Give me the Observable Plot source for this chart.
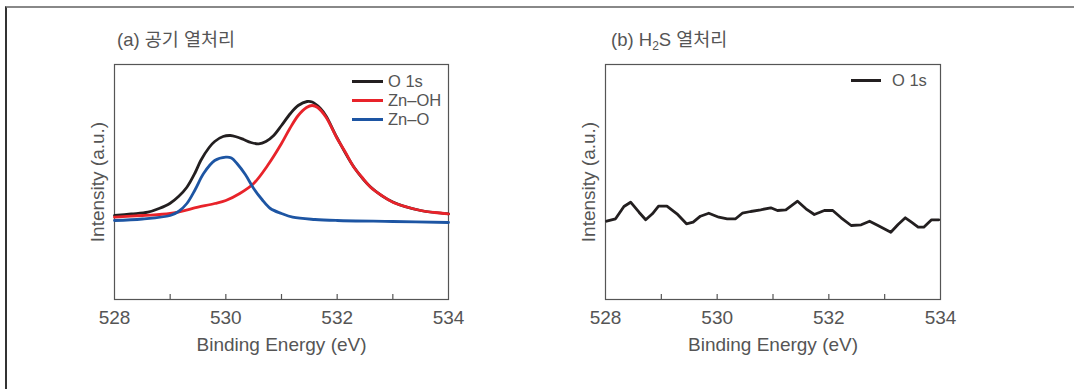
<!DOCTYPE html>
<html><head><meta charset="utf-8">
<script src="https://cdn.jsdelivr.net/npm/d3@7"></script>
<script src="https://cdn.jsdelivr.net/npm/@observablehq/plot@0.6"></script>
<style>
body{margin:0;background:#fff;}
#wrap{position:relative;width:1074px;height:389px;overflow:hidden;font-family:"Liberation Sans","Noto Sans CJK KR",sans-serif;color:#555;}
#wrap .frame{position:absolute;left:5px;top:6px;width:1100px;height:400px;border-top:2px solid #888;border-left:2px solid #333;}
.title{position:absolute;font-size:18.5px;line-height:20px;white-space:nowrap;}
.title sub{font-size:12px;vertical-align:-4px;}
.plot{position:absolute;top:0;}
.legend{position:absolute;font-size:16.5px;line-height:19px;white-space:nowrap;}
.legend .row{display:flex;align-items:center;height:19px;}
.legend .sw{display:inline-block;width:31px;height:3px;margin-right:5px;}
</style></head>
<body><div id="wrap"><div class="frame"></div></div>
<script>
// ---- data ----
const xTicks = [529, 530, 531, 532, 533];
const xTickLabels = [528, 530, 532, 534];
const seriesNamesA = ["O 1s", "Zn–OH", "Zn–O"];
const colorsA = ["#231f20", "#e8232a", "#1d55a3"];
// (a) air anneal
const o1sA_x = [528.0,528.3,528.6,528.8,529.0,529.15,529.3,529.45,529.55,529.7,529.8,529.95,530.08,530.2,530.32,530.45,530.59,530.72,530.86,531.0,531.16,531.3,531.46,531.55,531.7,531.8,532.0,532.3,532.6,533.0,533.5,534.0];
const o1sA_y = [84,85.5,87.3,91,96.3,103,112.3,127,139,152,158,163,164,162.5,160,157,155.7,158,164,174,186,194,198,197.5,191,183.5,161.5,132.5,112.5,97.5,89,85.7];
const znohA_x = [528.0,528.5,529.0,529.5,529.8,530.0,530.25,530.5,530.75,531.0,531.15,531.3,531.45,531.55,531.65,531.8,532.0,532.15,532.3,532.45,532.6,532.8,533.0,533.25,533.5,533.75,534.0];
const znohA_y = [82.3,84,86,92.3,96,99,106,116,134,156,171,184,192,194,192,182.3,161,147,132.3,122,112.3,104,97.3,92.5,89,87,85.7];
const znoA_x = [528.0,528.5,529.0,529.15,529.3,529.45,529.6,529.8,530.0,530.1,530.2,530.35,530.5,530.65,530.8,531.0,531.2,531.6,532.0,533.0,534.0];
const znoA_y = [79,80.5,84,88,96,110,126,139,142.3,141.5,136,125,111,100,91,86,82.3,80,79,78,77];
// (b) H2S anneal
const o1sB_x = [528.02,528.18,528.33,528.45,528.6,528.72,528.84,528.95,529.1,529.28,529.45,529.57,529.7,529.85,530.03,530.18,530.33,530.45,530.6,530.78,530.96,531.08,531.23,531.44,531.59,531.74,531.92,532.07,532.22,532.4,532.58,532.73,532.88,533.11,533.24,533.37,533.48,533.6,533.7,533.84,533.97];
const o1sB_y = [78.3,80.7,93,97.3,87.3,79.7,85.7,93.3,93.3,85.7,75.7,77.3,83.3,86.3,82.3,80.7,80.7,86.3,88,89.7,91.7,89,89.7,98.3,90.7,85,89,89,81.7,74,74.7,78.3,74,67.3,75,81.7,77.3,72.3,72.3,79.7,79.7];

const zip = (xs, ys) => xs.map((x, i) => ({x, y: ys[i]}));
const font = '"Liberation Sans","Noto Sans CJK KR",sans-serif';
const wrap = document.getElementById("wrap");

function panel(left, mL, mR, series, curve) {
  const marks = [
    Plot.frame({stroke: "#555", strokeWidth: 1.2}),
    Plot.ruleX(xTicks, {y1: 0, y2: 5, stroke: "#555", strokeWidth: 1.2}),
    Plot.axisX({ticks: xTickLabels, tickFormat: "d", tickSize: 0, tickPadding: 11, label: null, fontSize: 19}),
    Plot.text(["Binding Energy (eV)"], {frameAnchor: "bottom", dy: 51, fontSize: 19, fill: "#555"}),
    Plot.text(["Intensity (a.u.)"], {frameAnchor: "left", textAnchor: "middle", rotate: -90, dx: -17, fontSize: 19, fill: "#555"})
  ];
  for (const s of series) {
    marks.push(Plot.line(s.data, {x: "x", y: "y", stroke: s.color, strokeWidth: 2.8, curve, strokeLinejoin: "round"}));
  }
  const svg = Plot.plot({
    width: 420, height: 389,
    marginLeft: mL, marginRight: mR, marginTop: 64, marginBottom: 90,
    x: {domain: [528, 534], axis: null},
    y: {domain: [0, 235], axis: null},
    style: {fontFamily: font, fontSize: "19px", color: "#555", background: "transparent"},
    marks
  });
  svg.classList.add("plot");
  svg.style.left = left + "px";
  wrap.appendChild(svg);
}

panel(60, 54, 32, [
  {data: zip(o1sA_x, o1sA_y), color: colorsA[0]},
  {data: zip(znohA_x, znohA_y), color: colorsA[1]},
  {data: zip(znoA_x, znoA_y), color: colorsA[2]}
], "catmull-rom");
panel(550, 55, 30, [
  {data: zip(o1sB_x, o1sB_y), color: "#231f20"}
], "linear");

function addHTML(html) { wrap.insertAdjacentHTML("beforeend", html); }
addHTML('<div class="title" style="left:117px;top:30px">(a) 공기 열처리</div>');
addHTML('<div class="title" style="left:611px;top:30px">(b) H<sub>2</sub>S 열처리</div>');
addHTML('<div class="legend" style="left:352px;top:72px">' +
  seriesNamesA.map((n, i) => `<div class="row"><span class="sw" style="background:${colorsA[i]}"></span>${n}</div>`).join("") + '</div>');
addHTML('<div class="legend" style="left:851px;top:71px"><div class="row"><span class="sw" style="background:#231f20;width:30px;margin-right:11px"></span>O 1s</div></div>');
</script></body></html>
